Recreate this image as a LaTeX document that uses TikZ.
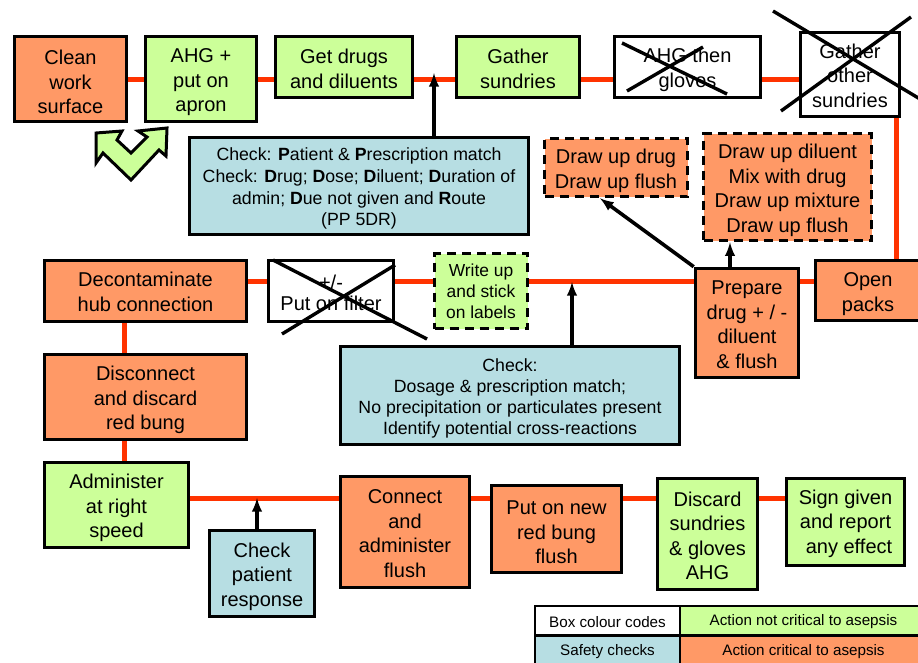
\documentclass[tikz,border=0pt]{standalone}
\usepackage{fontspec}
\setmainfont{Liberation Sans}
\usepackage{xcolor}
\definecolor{critcolor}{HTML}{FF9966}
\definecolor{safecolor}{HTML}{CCFF99}
\definecolor{checkcolor}{HTML}{B7DEE3}
\definecolor{linkcolor}{HTML}{FF3300}
\newcommand{\toppad}[1][18.5pt]{\rule{0pt}{#1}}
\tikzset{
  flowbox/.style = {draw, line width = 3.6pt, rectangle, align = center, inner sep = 0pt, font = \fontsize{20}{24.5}\selectfont},
  critbox/.style = {flowbox, fill = critcolor},
  safebox/.style = {flowbox, fill = safecolor},
  nullbox/.style = {flowbox, fill = white},
  checkbox/.style = {flowbox, fill = checkcolor, font = \fontsize{17.7}{21.8}\selectfont},
  dashbox/.style = {dash pattern = on 9pt off 6pt},
  keybox/.style = {draw, line width = 1.2pt, rectangle, inner sep = 0pt, text height = 13.5pt, font = \fontsize{15.2}{17}\selectfont},
  link/.style = {linkcolor, line width = 5pt},
  pointer/.style = {->, > = latex, line width = 3.6pt},
  strike/.style = {line width = 3.4pt}
}
\begin{document}
\begin{tikzpicture}[x = 1pt, y = -1pt]

        \useasboundingbox (0, 0) rectangle (918, 662);

        % Top row
        \node [critbox, minimum width = 112pt, minimum height = 85pt] (clean) at (70.5, 79) {\toppad[20.5pt]Clean\\work\\surface};
        \node [safebox, minimum width = 111pt, minimum height = 85pt] (apron) at (201, 79) {\toppad[20.5pt]AHG +\\put on\\apron};
        \node [safebox, minimum width = 137pt, minimum height = 61pt] (drugs) at (344, 67) {\toppad Get drugs\\and diluents};
        \node [safebox, minimum width = 123pt, minimum height = 61pt] (sundries) at (518, 67) {\toppad Gather\\sundries};
        \node [nullbox, minimum width = 146pt, minimum height = 61pt] (gloves) at (687.5, 67) {\toppad[20.5pt]AHG then\\gloves};
        \node [nullbox, minimum width = 99pt, minimum height = 84pt] (other) at (850, 74.5) {\toppad[16.5pt]Gather\\other\\sundries};

        % Middle row
        \node [checkbox, minimum width = 339pt, minimum height = 97pt] (patient) at (359, 186) {\toppad[18pt]Check: \textbf{P}atient \& \textbf{P}rescription match\\Check: \textbf{D}rug; \textbf{D}ose; \textbf{D}iluent; \textbf{D}uration of\\admin; \textbf{D}ue not given and \textbf{R}oute\\(PP 5DR)};
        \node [critbox, dashbox, minimum width = 143pt, minimum height = 58pt] (drawdrug) at (616, 167.5) {\toppad[21pt]Draw up drug\\Draw up flush};
        \node [critbox, dashbox, minimum width = 168pt, minimum height = 107pt] (drawmix) at (787.5, 187) {\toppad[21pt]Draw up diluent\\Mix with drug\\Draw up mixture\\Draw up flush};
        \node [critbox, minimum width = 202pt, minimum height = 61pt] (hub) at (145.5, 291) {\toppad[16.5pt]Decontaminate\\hub connection};
        \node [nullbox, minimum width = 125pt, minimum height = 61pt] (filter) at (331, 291) {\toppad +/-\\[-3pt]Put on filter};
        \node [safebox, dashbox, minimum width = 93pt, minimum height = 75pt, font = \fontsize{17.4}{21}\selectfont] (labels) at (481, 291) {Write up\\and stick\\on labels};
        \node [critbox, minimum width = 103pt, minimum height = 109pt] (prepare) at (747, 323) {\toppad[17.5pt]Prepare\\drug + / -\\diluent\\\& flush};
        \node [critbox, minimum width = 105pt, minimum height = 60pt] (packs) at (868, 290.5) {\toppad[21pt]Open\\packs};
        \node [checkbox, minimum width = 339pt, minimum height = 98pt, font = \fontsize{17.7}{21}\selectfont] (dosage) at (510, 395.5) {\toppad[18pt]Check:\\Dosage \& prescription match;\\No precipitation or particulates present\\Identify potential cross-reactions};

        % Bottom rows
        \node [critbox, minimum width = 202pt, minimum height = 85pt] (bung) at (145.5, 397) {\toppad[21pt]Disconnect\\and discard\\red bung};
        \node [safebox, minimum width = 144pt, minimum height = 85pt] (speed) at (116.5, 505) {\toppad[21pt]Administer\\at right\\speed};
        \node [checkbox, minimum width = 105pt, minimum height = 86pt, font = \fontsize{20}{24.5}\selectfont] (response) at (262, 573.5) {\toppad[20.5pt]Check\\patient\\response};
        \node [critbox, minimum width = 129pt, minimum height = 111pt] (connect) at (405, 532) {\toppad[17.5pt]Connect\\and\\administer\\flush};
        \node [critbox, minimum width = 130pt, minimum height = 87pt] (newbung) at (556.5, 529) {\toppad[20.5pt]Put on new\hspace{5pt}\\red bung\\flush};
        \node [safebox, minimum width = 100pt, minimum height = 111pt] (discard) at (707.5, 534) {\toppad Discard\\sundries\\\& gloves\\AHG};
        \node [safebox, minimum width = 118pt, minimum height = 87pt] (sign) at (845.5, 522) {\toppad[18pt]Sign given\\and report\\\hspace{7pt}any effect};

        % Legend
        \node [keybox, fill = white, minimum width = 145pt, minimum height = 29pt] (keya) at (607.5, 620.5) {Box colour codes};
        \node [keybox, fill = safecolor, minimum width = 247pt, minimum height = 29pt] (keyb) at (803.5, 620.5) {Action not critical to asepsis};
        \node [keybox, fill = checkcolor, minimum width = 145pt, minimum height = 28pt] (keyc) at (607.5, 650) {Safety checks};
        \node [keybox, fill = critcolor, minimum width = 247pt, minimum height = 28pt] (keyd) at (803.5, 650) {Action critical to asepsis};

        % Red links
        \draw [link] (clean.east) -- (apron.west);
        \draw [link] (apron.east) -- (drugs.west |- apron.east);
        \draw [link] (drugs.east |- apron.east) -- (sundries.west |- apron.east);
        \draw [link] (sundries.east |- apron.east) -- (gloves.west |- apron.east);
        \draw [link] (gloves.east |- apron.east) -- (other.west |- apron.east);
        \draw [link] (other.south -| 896, 0) -- (packs.north -| 896, 0);
        \draw [link] (packs.west |- 0, 281) -- (prepare.east |- 0, 281);
        \draw [link] (prepare.west |- 0, 281) -- (labels.east |- 0, 281);
        \draw [link] (labels.west |- 0, 281) -- (filter.east |- 0, 281);
        \draw [link] (filter.west |- 0, 281) -- (hub.east |- 0, 281);
        \draw [link] (hub.south -| 124, 0) -- (bung.north -| 124, 0);
        \draw [link] (bung.south -| 124, 0) -- (speed.north -| 124, 0);
        \draw [link] (speed.east |- 0, 498) -- (connect.west |- 0, 498);
        \draw [link] (connect.east |- 0, 498) -- (newbung.west |- 0, 498);
        \draw [link] (newbung.east |- 0, 498) -- (discard.west |- 0, 498);
        \draw [link] (discard.east |- 0, 498) -- (sign.west |- 0, 498);

        % Check pointers
        \draw [pointer] (patient.north -| 434, 0) -- (434, 73);
        \draw [pointer] (dosage.north -| 572, 0) -- (572, 282);
        \draw [pointer] (response.north -| 257, 0) -- (257, 498);
        \draw [pointer] (prepare.north west) -- (drawdrug.south -| 600, 0);
        \draw [pointer] (prepare.north -| 730, 0) -- (drawmix.south -| 730, 0);

        % Crossed out steps
        \draw [strike] (622, 43) -- (727, 94);
        \draw [strike] (627, 91) -- (703, 47);
        \draw [strike] (773, 11) -- (920, 99);
        \draw [strike] (781, 111) -- (911, 17);
        \draw [strike] (273, 260) -- (427, 339);
        \draw [strike] (282, 334) -- (395, 265);

        % U-turn mark
        \draw [line width = 3pt, fill = safecolor, line join = miter] (96, 133) -- (122, 131) -- (117, 140) -- (131, 153) -- (147, 137) -- (138, 131) -- (167, 128) -- (166, 156) -- (159, 150) -- (131, 180) -- (103, 153) -- (96, 163) -- cycle;

    \end{tikzpicture}
\end{document}
